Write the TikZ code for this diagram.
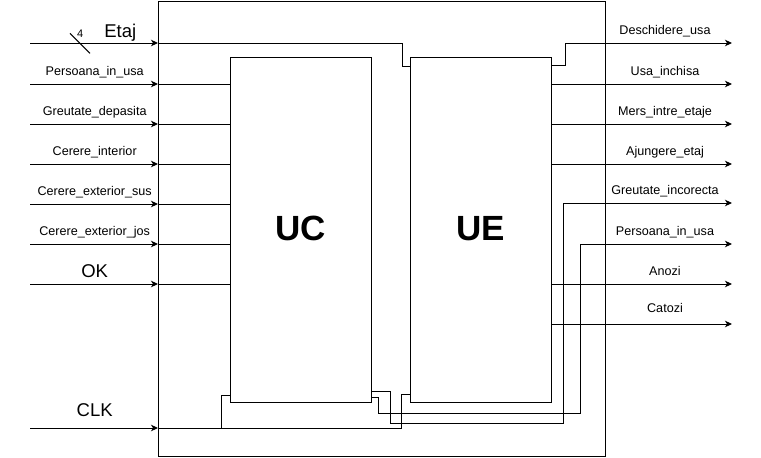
\documentclass[tikz,border=0pt]{standalone}
\usepackage{fontspec}
\setmainfont{Liberation Sans}
\usetikzlibrary{arrows.meta}
\begin{document}
\begin{tikzpicture}[x=1pt,y=-1pt,
  wire/.style={line width=1pt, black},
  sig/.style={wire, -{Stealth[length=7pt,width=6.5pt,inset=2pt]}},
  box/.style={draw, line width=1pt, inner sep=0pt, outer sep=0pt},
  lbl/.style={font=\fontsize{12.6}{14}\selectfont, inner sep=0pt, anchor=base},
  big/.style={font=\fontsize{18.5}{20}\selectfont, inner sep=0pt, anchor=base},
  unitlbl/.style={font=\fontsize{35}{40}\selectfont\bfseries, inner sep=0pt, anchor=base}]
\useasboundingbox (0,0) rectangle (761,458);
% boxes
\node[box, minimum width=447pt, minimum height=455pt] (outer) at (381.5,228.5) {};
\node[box, minimum width=141pt, minimum height=345pt] (UC) at (300.5,229.5) {};
\node[box, minimum width=141pt, minimum height=345pt] (UE) at (480.5,229.5) {};
\node[unitlbl] (ucl) at (300.5,240.7) {UC};
\node[unitlbl] (uel) at (480.5,240.7) {UE};
% input free ends
\coordinate (iE) at (30,43);
\coordinate (i1) at (30,84);
\coordinate (i2) at (30,124);
\coordinate (i3) at (30,164);
\coordinate (i4) at (30,204);
\coordinate (i5) at (30,244);
\coordinate (i6) at (30,284);
\coordinate (iC) at (30,428);
% output free ends
\coordinate (o1) at (732,43);
\coordinate (o2) at (732,84);
\coordinate (o3) at (732,124);
\coordinate (o4) at (732,164);
\coordinate (o5) at (732,203);
\coordinate (o6) at (732,244);
\coordinate (o7) at (732,284);
\coordinate (o8) at (732,324);
% inputs
\foreach \c in {iE,i1,i2,i3,i4,i5,i6,iC}
  \draw[sig] (\c) -- (\c -| outer.west);
\foreach \c in {i1,i2,i3,i4,i5,i6}
  \draw[wire] (\c -| outer.west) -- (\c -| UC.west);
% Etaj to UE
\draw[wire] (iE -| outer.west) -- (402,43) -- (402,66) -- (UE.west |- 0,66);
\draw[wire] (70,33.3) -- (90,53.3);
\node[font=\fontsize{11}{12}\selectfont, inner sep=0pt, anchor=base] (n4) at (80.3,37.3) {4};
% CLK
\coordinate (clkb) at (221,428);
\draw[wire] (iC -| outer.west) -- (401,428) -- (401,394) -- (UE.west |- 0,394);
\draw[wire] (clkb) -- (221,395) -- (UC.west |- 0,395);
% outputs
\draw[sig] (UE.east |- 0,65) -- (565,65) -- (565,43) -- (o1);
\draw[sig] (UE.east |- o2) -- (o2);
\draw[sig] (UE.east |- o3) -- (o3);
\draw[sig] (UE.east |- o4) -- (o4);
\draw[sig] (UE.east |- o7) -- (o7);
\draw[sig] (UE.east |- o8) -- (o8);
\draw[sig] (UC.east |- 0,391) -- (390,391) -- (390,423.3) -- (563.3,423.3) -- (563.3,203) -- (o5);
\draw[sig] (UC.east |- 0,397.7) -- (378.3,397.7) -- (378.3,413.3) -- (580,413.3) -- (580,244) -- (o6);
% input labels
\node[big] (lE) at (120.3,37.3) {Etaj};
\node[lbl] (l1) at (94.7,75) {Persoana\_in\_usa};
\node[lbl] (l2) at (94.7,115) {Greutate\_depasita};
\node[lbl] (l3) at (94.7,155) {Cerere\_interior};
\node[lbl] (l4) at (94.7,195) {Cerere\_exterior\_sus};
\node[lbl] (l5) at (94.7,235) {Cerere\_exterior\_jos};
\node[big] (lOK) at (94.7,277.3) {OK};
\node[big] (lC) at (94.7,416.7) {CLK};
% output labels
\node[lbl] (m1) at (665,34.5) {Deschidere\_usa};
\node[lbl] (m2) at (665,75.5) {Usa\_inchisa};
\node[lbl] (m3) at (665,115) {Mers\_intre\_etaje};
\node[lbl] (m4) at (665,155) {Ajungere\_etaj};
\node[lbl] (m5) at (665,194.5) {Greutate\_incorecta};
\node[lbl] (m6) at (665,235.5) {Persoana\_in\_usa};
\node[lbl] (m7) at (665,275) {Anozi};
\node[lbl] (m8) at (665,312) {Catozi};
\end{tikzpicture}
\end{document}
